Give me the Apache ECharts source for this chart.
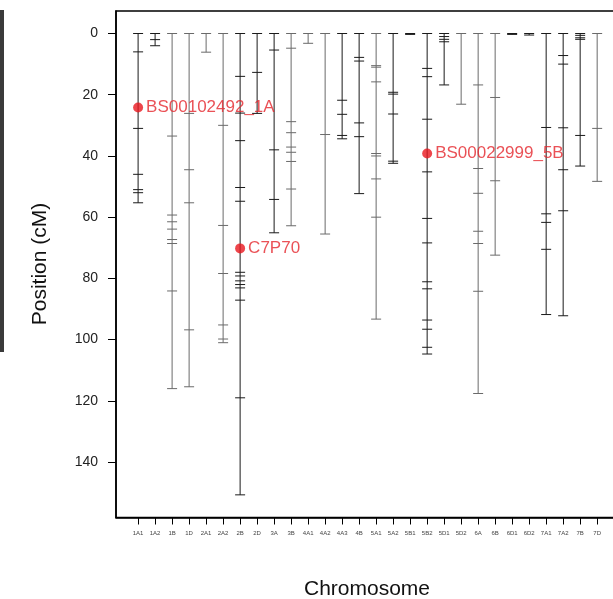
<!DOCTYPE html>
<html>
<head>
<meta charset="utf-8">
<script src="https://cdn.jsdelivr.net/npm/echarts@6/dist/echarts.min.js"></script>
<style>html,body{margin:0;padding:0;background:#fff}#c{width:613px;height:599px}</style>
</head>
<body>
<div id="c"></div>
<script>
const chromosomes = ['1A1','1A2','1B','1D','2A1','2A2','2B','2D','3A','3B','4A1','4A2','4A3','4B','5A1','5A2','5B1','5B2','5D1','5D2','6A','6B','6D1','6D2','7A1','7A2','7B','7D'];
const lengths = [55.3, 4, 116, 115.4, 6.1, 101, 150.7, 26.1, 65.1, 62.8, 3.2, 65.5, 34.4, 52.3, 93.3, 42.4, 0.3, 104.7, 16.8, 23.1, 117.6, 72.4, 0.3, 0.5, 91.8, 92.2, 43.3, 48.3];
const markerPositions = [
  [0, 6, 31, 46, 51, 52, 55.3],
  [0, 2, 4],
  [0, 33.5, 59.3, 61.5, 63.9, 67.3, 68.6, 84.1, 116],
  [0, 26.1, 44.5, 55.3, 96.8, 115.4],
  [0, 6.1],
  [0, 30, 62.7, 78.4, 95.2, 99.8, 101],
  [0, 14, 26, 35, 50.3, 54.8, 78, 79.2, 80.8, 82, 83.1, 87.1, 119, 150.7],
  [0, 12.7, 26.1],
  [0, 5.4, 38, 54.2, 65.1],
  [0, 4.8, 28.8, 32.4, 37.1, 38.8, 41.8, 50.8, 62.8],
  [0, 3.2],
  [0, 33, 65.5],
  [0, 21.8, 26.4, 33.3, 34.4],
  [0, 7.8, 9, 29.2, 33.7, 52.3],
  [0, 10.5, 11, 15.8, 39.2, 40, 47.5, 60, 93.3],
  [0, 19.2, 19.8, 26.3, 41.7, 42.4],
  [0, 0.3],
  [0, 11.4, 14.1, 28, 45.2, 60.4, 68.4, 81.1, 83.4, 93.6, 96.6, 102.5, 104.7],
  [0, 1, 1.9, 2.7, 16.8],
  [0, 23.1],
  [0, 16.8, 44.1, 52.2, 64.6, 68.6, 84.2, 117.6],
  [0, 20.9, 48.1, 72.4],
  [0, 0.3],
  [0, 0.5],
  [0, 30.7, 58.9, 61.7, 70.5, 91.8],
  [0, 7.2, 10, 30.8, 44.5, 57.9, 92.2],
  [0, 0.6, 1.4, 1.9, 33.3, 43.3],
  [0, 31, 48.3]
];
const highlightNames = ['BS00102492_1A', 'C7P70', 'BS00022999_5B'];
const highlightChromosomes = ['1A1', '2B', '5B2'];
const highlightPositions = [24.2, 70.2, 39.2];
const yTickValues = [0, 20, 40, 60, 80, 100, 120, 140];

// styling (kept separate from data)
const darkSet = ['1A1','1A2','2B','2D','3A','4A3','4B','5A2','5B2','5D1','7A1','7A2','7B','5B1','6D1','6D2'];

const chart = echarts.init(document.getElementById('c'), null, {renderer: 'canvas'});

const chromData = chromosomes.map((c, i) => [i + 1, lengths[i], i]);
const xTickValues = chromosomes.map((c, i) => i + 1);

const option = {
  backgroundColor: '#fff',
  animation: false,
  grid: {left: 116, top: 11, width: 515, height: 506.5, outerBoundsMode: 'none', containLabel: false,
    show: true, borderColor: '#000', borderWidth: 1.5, backgroundColor: 'transparent'},
  xAxis: {
    type: 'value', min: -0.3, max: 29.99,
    splitLine: {show: false},
    axisLine: {show: true, onZero: false, lineStyle: {color: '#000', width: 1.5}},
    axisTick: {show: true, customValues: xTickValues, length: 7, lineStyle: {color: '#000', width: 1}},
    axisLabel: {show: true, customValues: xTickValues, margin: 13, fontSize: 6, color: '#444', fontFamily: 'Liberation Sans',
      formatter: v => chromosomes[Math.round(v) - 1] || ''}
  },
  yAxis: {
    type: 'value', inverse: true, min: -7.35, max: 158.1,
    splitLine: {show: false},
    axisLine: {show: true, onZero: false, lineStyle: {color: '#000', width: 1.5}},
    axisTick: {show: true, customValues: yTickValues, length: 8, lineStyle: {color: '#000', width: 1}},
    axisLabel: {show: true, customValues: yTickValues, margin: 18, fontSize: 14, color: '#222', fontFamily: 'Liberation Sans'}
  },
  series: [
    {
      type: 'custom',
      data: chromData,
      clip: false,
      renderItem: function (params, api) {
        const x = api.value(0), len = api.value(1), idx = api.value(2);
        const col = darkSet.indexOf(chromosomes[idx]) >= 0 ? '#1a1a1a' : '#6a6a6a';
        const top = api.coord([x, 0]);
        const bot = api.coord([x, len]);
        const children = [{
          type: 'line',
          shape: {x1: top[0], y1: top[1], x2: bot[0], y2: bot[1]},
          style: {stroke: col, lineWidth: 1}
        }];
        markerPositions[idx].forEach(p => {
          const pt = api.coord([x, p]);
          children.push({
            type: 'line',
            shape: {x1: pt[0] - 5, y1: pt[1], x2: pt[0] + 5, y2: pt[1]},
            style: {stroke: col, lineWidth: 1}
          });
        });
        return {type: 'group', children: children};
      }
    },
    {
      type: 'scatter',
      symbol: 'circle',
      symbolSize: 10,
      itemStyle: {color: '#e8161e'},
      data: highlightNames.map((n, i) => ({
        value: [chromosomes.indexOf(highlightChromosomes[i]) + 1, highlightPositions[i]],
        name: n
      })),
      label: {show: true, position: 'right', distance: 3, formatter: p => p.name,
        color: '#e5262c', fontSize: 17, fontFamily: 'Liberation Sans'},
      z: 5
    }
  ],
  graphic: [
    {type: 'text', x: 40, y: 264, rotation: Math.PI / 2,
      style: {text: 'Position (cM)', fontSize: 21, fontFamily: 'Liberation Sans', fill: '#111', align: 'center', verticalAlign: 'middle'}},
    {type: 'text', x: 367, y: 589,
      style: {text: 'Chromosome', fontSize: 21, fontFamily: 'Liberation Sans', fill: '#111', align: 'center', verticalAlign: 'middle'}},
    {type: 'rect', shape: {x: 0, y: 10, width: 4, height: 342}, style: {fill: '#3a3a3a'}}
  ]
};
chart.setOption(option);
</script>
</body>
</html>
